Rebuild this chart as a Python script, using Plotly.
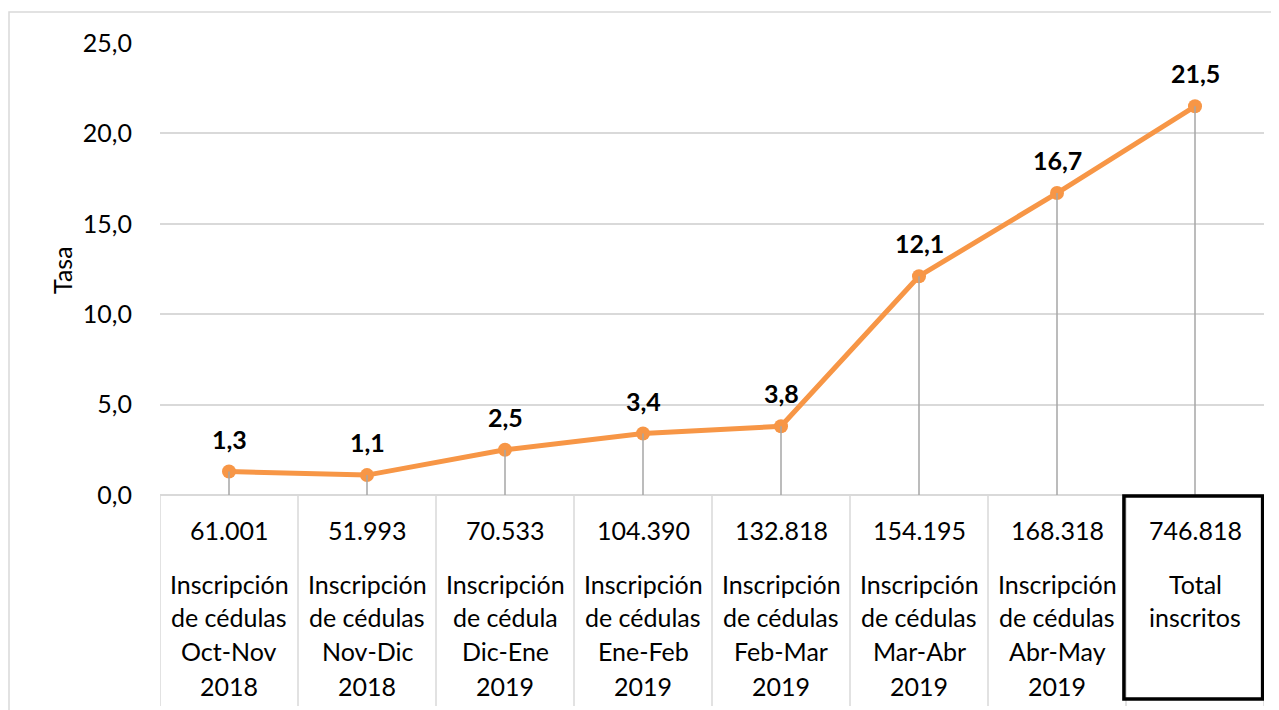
import plotly.graph_objects as go

categories = [
    ["Inscripción", "de cédulas", "Oct-Nov", "2018"],
    ["Inscripción", "de cédulas", "Nov-Dic", "2018"],
    ["Inscripción", "de cédula", "Dic-Ene", "2019"],
    ["Inscripción", "de cédulas", "Ene-Feb", "2019"],
    ["Inscripción", "de cédulas", "Feb-Mar", "2019"],
    ["Inscripción", "de cédulas", "Mar-Abr", "2019"],
    ["Inscripción", "de cédulas", "Abr-May", "2019"],
    ["Total", "inscritos"],
]
counts = ["61.001", "51.993", "70.533", "104.390", "132.818", "154.195", "168.318", "746.818"]
rates = [1.3, 1.1, 2.5, 3.4, 3.8, 12.1, 16.7, 21.5]
y_ticks = [0, 5, 10, 15, 20, 25]

FONT = "Lato"
ORANGE = "#F79646"
GRID = "#D9D9D9"

# page body margin offset (8px default)
OFF = 8
W, H = 1279 - OFF, 710 - OFF
PL, PR = 160 - OFF, 1264 - OFF
PT, PB = 43 - OFF, 495 - OFF
ph = PB - PT
n = len(rates)
xs = list(range(n))

def py(pix):
    return (PB - (pix - OFF)) / ph

def px(pix):
    return ((pix - OFF) - PL) / (PR - PL)

fig = go.Figure()
fig.add_trace(go.Scatter(
    x=xs, y=rates, mode="lines+markers",
    line=dict(color=ORANGE, width=5),
    marker=dict(color=ORANGE, size=14),
    cliponaxis=False, showlegend=False, hoverinfo="skip",
))

shapes = []
shapes.append(dict(type="rect", xref="paper", yref="paper",
                   x0=px(9), x1=px(1300), y0=py(12), y1=py(730),
                   line=dict(color=GRID, width=1.5), layer="below"))
for i, v in enumerate(rates):
    shapes.append(dict(type="line", xref="x", yref="y", x0=i, x1=i, y0=0, y1=v,
                       line=dict(color="#A6A6A6", width=1.5), layer="above"))
for k in range(n + 1):
    shapes.append(dict(type="line", xref="x", yref="paper", x0=k - 0.5, x1=k - 0.5,
                       y0=0, y1=py(706), line=dict(color=GRID, width=1.5)))
shapes.append(dict(type="rect", xref="x", yref="paper", x0=n - 1.5 - 0.015, x1=n - 0.5 - 0.01,
                   y0=py(496), y1=py(699), line=dict(color="black", width=3.5)))

annotations = []
for i, v in enumerate(rates):
    annotations.append(dict(x=i, y=v, xref="x", yref="y",
                            text=f"{v:.1f}".replace(".", ","), showarrow=False,
                            yshift=33, xanchor="center", yanchor="middle",
                            font=dict(family=FONT, size=25, color="black", weight="bold")))
for i, (cat, cnt) in enumerate(zip(categories, counts)):
    annotations.append(dict(x=i, y=py(530), xref="x", yref="paper", text=cnt,
                            showarrow=False, font=dict(family=FONT, size=25, color="black"),
                            xanchor="center", yanchor="middle"))
    for j, line in enumerate(cat):
        ypix = [584, 617, 651, 686][j]
        annotations.append(dict(x=i, y=py(ypix), xref="x", yref="paper", text=line,
                                showarrow=False, font=dict(family=FONT, size=25, color="black"),
                                xanchor="center", yanchor="middle"))
annotations.append(dict(x=px(62), y=py(270), xref="paper", yref="paper", text="Tasa",
                        textangle=-90, showarrow=False,
                        font=dict(family=FONT, size=25, color="black"),
                        xanchor="center", yanchor="middle"))

fig.update_layout(
    width=W, height=H,
    margin=dict(l=PL, r=W - PR, t=PT, b=H - PB, pad=0),
    paper_bgcolor="white", plot_bgcolor="white",
    separators=",.",
    shapes=shapes, annotations=annotations,
    xaxis=dict(range=[-0.5, n - 0.5], showticklabels=False, showgrid=False,
               zeroline=False, showline=False, ticks="", fixedrange=True),
    yaxis=dict(range=[0, 25], tickvals=y_ticks, tickformat=".1f",
               showgrid=True, gridcolor=GRID, gridwidth=1.5,
               zeroline=True, zerolinecolor=GRID, zerolinewidth=1.5,
               showline=False, ticks="", ticklabelstandoff=27,
               tickfont=dict(family=FONT, size=25, color="black"), fixedrange=True),
)

fig.write_html("out.html")
